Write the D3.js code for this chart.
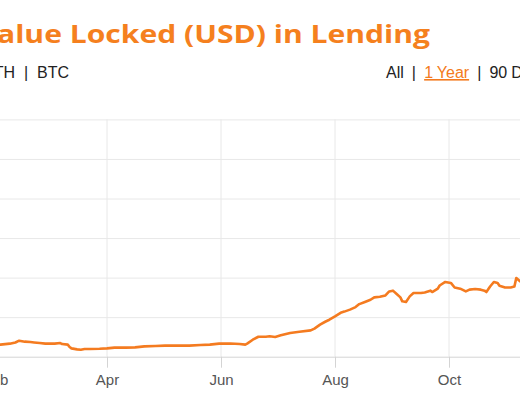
<!DOCTYPE html>
<html><head><meta charset="utf-8">
<script src="https://cdn.jsdelivr.net/npm/d3@7"></script>
<style>
body{margin:0;background:#fff;overflow:hidden}
svg{display:block}
</style>
</head><body>
<svg id="c" width="520" height="400"></svg>
<script>
const titleText = "Total Value Locked (USD) in Lending";
const currencyOptions = ["USD", "ETH", "BTC"];
const rangeOptions = ["All", "1 Year", "90 Days", "30 Days"];
const activeRange = "1 Year";
const tickMonths = ["2020-02-01","2020-04-01","2020-06-01","2020-08-01","2020-10-01","2020-12-01"];
const yTicks = [0, 2, 4, 6, 8, 10, 12];

const dates = [
 "2020-01-31","2020-02-04","2020-02-09","2020-02-12","2020-02-14","2020-02-17","2020-02-20","2020-02-22","2020-02-25","2020-02-28",
 "2020-03-01","2020-03-04","2020-03-07","2020-03-08","2020-03-11","2020-03-12","2020-03-13","2020-03-16","2020-03-18","2020-03-20",
 "2020-03-23","2020-03-28","2020-04-01","2020-04-05","2020-04-11","2020-04-16","2020-04-21","2020-04-27","2020-05-02","2020-05-07",
 "2020-05-10","2020-05-15","2020-05-21","2020-05-26","2020-05-31","2020-06-06","2020-06-11","2020-06-14","2020-06-15","2020-06-18",
 "2020-06-21","2020-06-25","2020-06-27","2020-06-30","2020-07-03","2020-07-08","2020-07-13","2020-07-19","2020-07-21","2020-07-24",
 "2020-07-27","2020-07-29","2020-08-01","2020-08-04","2020-08-06","2020-08-09","2020-08-12","2020-08-14","2020-08-17","2020-08-20",
 "2020-08-22","2020-08-25","2020-08-28","2020-08-30","2020-09-01","2020-09-03","2020-09-05","2020-09-06","2020-09-08","2020-09-10",
 "2020-09-12","2020-09-16","2020-09-18","2020-09-21","2020-09-22","2020-09-25","2020-09-26","2020-09-29","2020-10-02","2020-10-04",
 "2020-10-07","2020-10-10","2020-10-12","2020-10-15","2020-10-18","2020-10-20","2020-10-21","2020-10-23","2020-10-25","2020-10-27",
 "2020-10-28","2020-10-31","2020-11-03","2020-11-05","2020-11-06","2020-11-08","2020-11-11"
];
// TVL in billions USD
const tvl = [
 0.60,0.61,0.66,0.72,0.81,0.76,0.74,0.72,0.69,0.66,
 0.66,0.66,0.69,0.64,0.61,0.49,0.42,0.37,0.35,0.39,
 0.39,0.40,0.42,0.46,0.46,0.47,0.52,0.54,0.56,0.57,
 0.56,0.56,0.59,0.61,0.66,0.67,0.64,0.61,0.66,0.86,
 1.01,1.01,1.03,1.00,1.08,1.20,1.26,1.33,1.42,1.62,
 1.78,1.87,2.04,2.22,2.28,2.38,2.51,2.66,2.77,2.88,
 3.00,3.03,3.10,3.30,3.34,3.17,3.00,2.80,2.77,3.05,
 3.22,3.22,3.25,3.34,3.27,3.44,3.60,3.78,3.73,3.50,
 3.44,3.30,3.39,3.42,3.39,3.34,3.27,3.55,3.78,3.73,
 3.59,3.50,3.50,3.55,3.98,3.81,3.85
];

const parse = d3.timeParse("%Y-%m-%d");
const data = dates.map((d, i) => ({date: parse(d), value: tvl[i]}));
const tickDates = tickMonths.map(parse);

const W = 520, H = 400;
const svg = d3.select("#c");
const orange = "#f47b20";
const font = "'Liberation Sans', Arial, sans-serif";

const x = d3.scaleTime()
  .domain([parse("2020-04-01"), parse("2020-10-01")])
  .range([107, 449]);
const y = d3.scaleLinear().domain([0, 12]).range([356.7, 119.4]);

// horizontal grid
const gy = svg.append("g").attr("transform", "translate(-20,0)")
  .call(d3.axisLeft(y).tickValues(yTicks).tickSize(-W - 40).tickFormat(""));
gy.select(".domain").remove();
gy.selectAll(".tick line").attr("stroke", d => d === 0 ? "#d4d4d4" : "#e8e8e8").attr("stroke-width", 1);

// vertical grid
svg.append("g").selectAll("line").data(tickDates).join("line")
  .attr("x1", d => x(d)).attr("x2", d => x(d))
  .attr("y1", y(12)).attr("y2", y(0))
  .attr("stroke", "#e8e8e8").attr("stroke-width", 1);

// x axis
const gx = svg.append("g").attr("transform", `translate(0,${y(0)})`)
  .call(d3.axisBottom(x).tickValues(tickDates).tickFormat(d3.timeFormat("%b")).tickSize(11).tickPadding(7));
gx.select(".domain").remove();
gx.selectAll(".tick line").attr("stroke", "#d4d4d4");
gx.selectAll(".tick text").attr("fill", "#555").attr("font-size", 15).attr("font-family", font);

// line
svg.append("path").datum(data)
  .attr("fill", "none").attr("stroke", orange).attr("stroke-width", 2.6)
  .attr("stroke-linejoin", "round")
  .attr("d", d3.line().x(d => x(d.date)).y(d => y(d.value)));

// title (wide geometric face approximated by stretching Open Sans Bold)
const title = svg.append("text").text(titleText)
  .attr("x", 430).attr("y", 43).attr("text-anchor", "end")
  .attr("font-family", "'Open Sans', sans-serif").attr("font-weight", 700)
  .attr("font-size", 25).attr("fill", "#f5801e");
{
  const node = title.node();
  const full = node.getComputedTextLength();
  const idx = titleText.indexOf("alue");
  const sub = node.getSubStringLength(idx, titleText.length - idx);
  const ratio = 433 / sub;
  title.attr("textLength", full * ratio).attr("lengthAdjust", "spacingAndGlyphs");
}

// currency options (right-aligned so BTC ends at x=69)
const cur = svg.append("text").attr("x", 69).attr("y", 78).attr("text-anchor", "end")
  .attr("font-family", font).attr("font-size", 16).attr("fill", "#222")
  .attr("xml:space", "preserve");
currencyOptions.forEach((c, i) => {
  if (i > 0) cur.append("tspan").text("  |  ");
  cur.append("tspan").text(c);
});

// range options
const rg = svg.append("text").attr("x", 386).attr("y", 78)
  .attr("font-family", font).attr("font-size", 16).attr("fill", "#222")
  .attr("xml:space", "preserve").attr("word-spacing", -0.4);
rangeOptions.forEach((r, i) => {
  if (i > 0) rg.append("tspan").text("  |  ");
  const t = rg.append("tspan").text(r);
  if (r === activeRange) t.attr("fill", orange).attr("text-decoration", "underline");
});
</script>
</body></html>
